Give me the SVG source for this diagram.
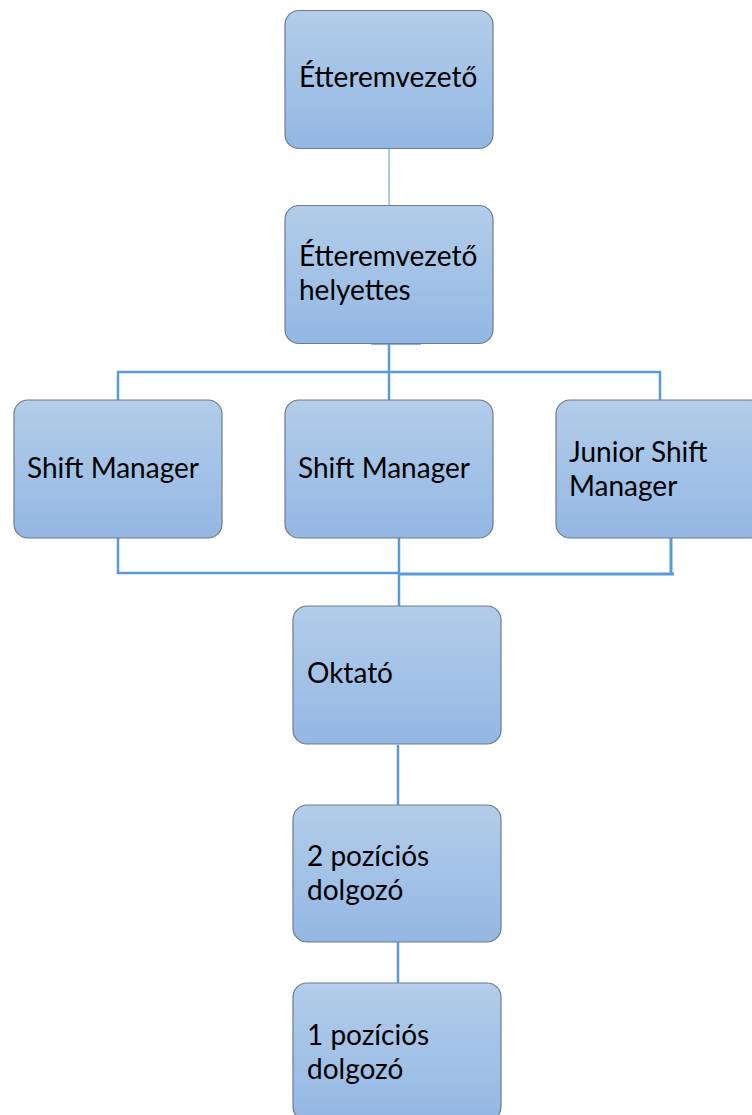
<svg xmlns="http://www.w3.org/2000/svg" width="752" height="1115" viewBox="0 0 752 1115">
<defs>
<linearGradient id="g" x1="0" y1="0" x2="0" y2="1">
<stop offset="0" stop-color="#b3cdea"/>
<stop offset="1" stop-color="#93b7e3"/>
</linearGradient>
</defs>
<style>
.box{fill:url(#g);stroke:#6e7b8b;stroke-width:1.2}
.t{font-family:Lato,"Open Sans","Liberation Sans",sans-serif;font-size:28px;fill:#000}
.c{fill:none;stroke:#5b9bd5;stroke-width:2.5}
</style>
<rect width="752" height="1115" fill="#fff"/>
<g id="connectors">
<line x1="389" y1="148" x2="389" y2="205" class="c" style="stroke-width:1.2;stroke:#6fa6da"/>
<line x1="371" y1="343" x2="421" y2="343" class="c" style="stroke-width:3.5"/>
<line x1="389" y1="343" x2="389" y2="400" class="c"/>
<path d="M118 400 V372 H660 V400" class="c"/>
<path d="M118 538 V573 H398" class="c"/>
<line x1="399" y1="535" x2="399" y2="606" class="c"/>
<path d="M671 535 V575" class="c" style="stroke-width:3"/>
<path d="M398 574 H674" class="c" style="stroke-width:3"/>
<line x1="398" y1="745" x2="398" y2="805" class="c"/>
<line x1="398" y1="942" x2="398" y2="983" class="c"/>
</g>
<g id="n1"><rect class="box" x="285" y="10.5" width="208" height="138" rx="14"/><text class="t" x="299" y="87">Étteremvezető</text></g>
<g id="n2"><rect class="box" x="285" y="205.5" width="208" height="138" rx="14"/><text class="t" x="299" y="266">Étteremvezető</text><text class="t" x="299" y="300">helyettes</text></g>
<g id="n3"><rect class="box" x="14" y="400" width="208" height="138" rx="14"/><text class="t" x="27" y="478">Shift Manager</text></g>
<g id="n4"><rect class="box" x="285" y="400" width="208" height="138" rx="14"/><text class="t" x="298" y="478">Shift Manager</text></g>
<g id="n5"><rect class="box" x="556" y="400" width="208" height="138" rx="14"/><text class="t" x="569" y="462">Junior Shift</text><text class="t" x="569" y="496">Manager</text></g>
<g id="n6"><rect class="box" x="293" y="606" width="208" height="138" rx="14"/><text class="t" x="307" y="683">Oktató</text></g>
<g id="n7"><rect class="box" x="293" y="805" width="208" height="137" rx="14"/><text class="t" x="307" y="866">2 pozíciós</text><text class="t" x="307" y="900">dolgozó</text></g>
<g id="n8"><rect class="box" x="293" y="983" width="208" height="138" rx="14"/><text class="t" x="307" y="1045">1 pozíciós</text><text class="t" x="307" y="1079">dolgozó</text></g>
</svg>
